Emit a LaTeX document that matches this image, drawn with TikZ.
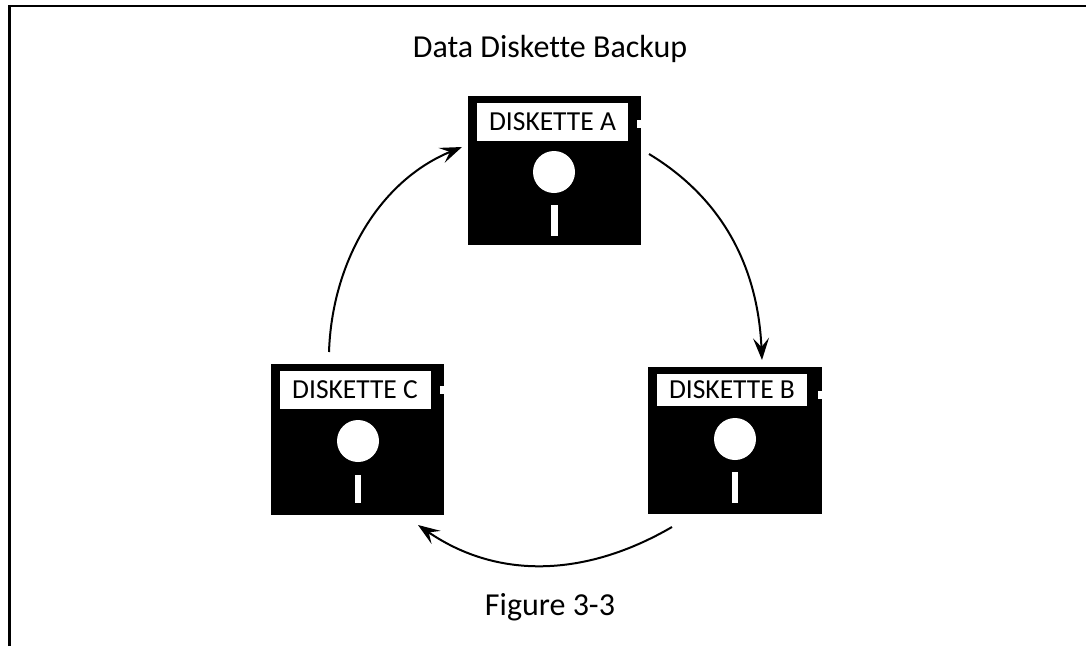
\documentclass[tikz,border=0pt]{standalone}
\usepackage{fontspec}
\setmainfont[Ligatures=NoCommon]{Carlito}
\usetikzlibrary{arrows.meta,calc}
\begin{document}
\begin{tikzpicture}[x=1pt,y=-1pt] % one unit is one pixel of the page, y runs downwards
\tikzset{diskbody/.style={draw=none, fill=black, rectangle, inner sep=0pt, outer sep=0pt, minimum width=173pt, minimum height=149pt}}
\tikzset{disklabel/.style={draw=none, fill=white, rectangle, inner sep=0pt, outer sep=0pt, minimum width=151pt, minimum height=38pt, font=\fontsize{27.5}{30}\selectfont}}
\tikzset{diskhole/.style={draw=none, fill=white, circle, inner sep=0pt, minimum size=42pt}}
\tikzset{diskslot/.style={draw=none, fill=white, rectangle, inner sep=0pt, minimum width=6.5pt, minimum height=31pt}}
\tikzset{disknotch/.style={draw=none, fill=white, rectangle, inner sep=0pt, minimum width=4pt, minimum height=8pt}}
\tikzset{caption/.style={inner sep=0pt, font=\fontsize{32}{36}\selectfont}}
\tikzset{flow/.style={line width=2pt, -{Stealth[length=22pt,width=16pt,inset=9pt]}}}
\useasboundingbox (0,0) rectangle (1086,646);
\draw[line width=2.5pt] (9.5,646) -- (9.5,6) -- (1086,6);
\node[caption, anchor=base] (title) at (550,57) {Data Diskette Backup};
\node[caption, anchor=base] (figlabel) at (550,615) {Figure 3-3};
% diskette A
\node[diskbody] (diskA) at (554.5,170.5) {};
\node[disklabel] (labelA) at (552.5,122) {DISKETTE A};
\node[diskhole] (holeA) at (554,172) {};
\node[diskslot] (slotA) at (554.5,220) {};
\node[disknotch] (notchA) at (639,124) {};
% diskette B
\node[diskbody, minimum width=174pt, minimum height=147pt] (diskB) at (735,440.5) {};
\node[disklabel, minimum width=150pt, minimum height=32pt] (labelB) at (732,390) {DISKETTE B};
\node[diskhole] (holeB) at (735,439) {};
\node[diskslot] (slotB) at (735,487.5) {};
\node[disknotch] (notchB) at (820,395) {};
% diskette C
\node[diskbody, minimum height=151pt] (diskC) at (357.5,439.5) {};
\node[disklabel] (labelC) at (355,390) {DISKETTE C};
\node[diskhole] (holeC) at (358,441) {};
\node[diskslot, minimum height=28pt] (slotC) at (358,489) {};
\node[disknotch] (notchC) at (442,390) {};
% free ends of the arrows, they stop short of the diskettes
\coordinate (outA) at ($(diskA.east)+(8,-16.5)$);
\coordinate (inB) at ($(diskB.north)+(27,-7)$);
\coordinate (outB) at ($(diskB.south west)+(24,13)$);
\coordinate (inC) at ($(diskC.south east)+(-26,10)$);
\coordinate (outC) at ($(diskC.north west)+(58,-12)$);
\coordinate (inA) at ($(diskA.west)+(-6,-23.5)$);
\draw[flow] (outA) .. controls +(76,46) and +(-4,-90) .. (inB);
\draw[flow] (outB) .. controls +(-86,50) and +(80,55) .. (inC);
\draw[flow] (outC) .. controls +(3,-90) and +(-83,34) .. (inA);
\end{tikzpicture}
\end{document}
